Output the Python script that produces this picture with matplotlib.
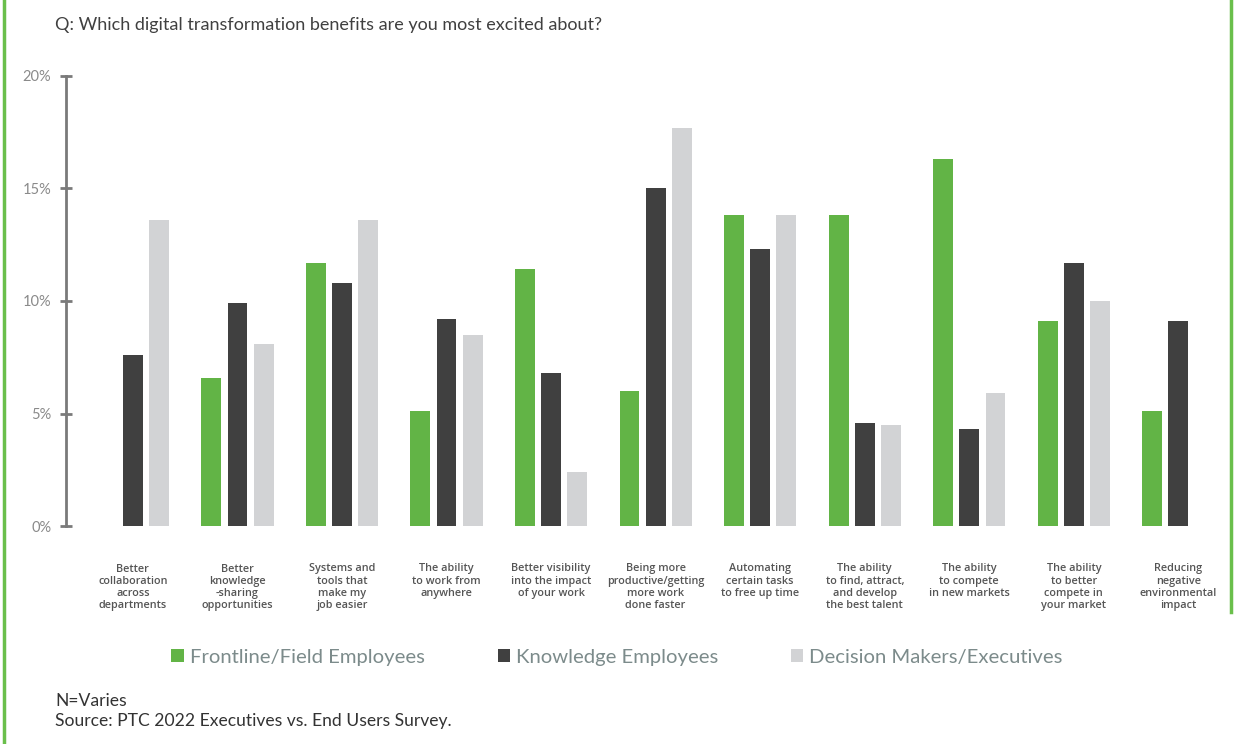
import numpy as np
import matplotlib.pyplot as plt
from matplotlib.lines import Line2D

# Data (percent)
categories = [
    "Better\ncollaboration\nacross\ndepartments",
    "Better\nknowledge\n-sharing\nopportunities",
    "Systems and\ntools that\nmake my\njob easier",
    "The ability\nto work from\nanywhere",
    "Better visibility\ninto the impact\nof your work",
    "Being more\nproductive/getting\nmore work\ndone faster",
    "Automating\ncertain tasks\nto free up time",
    "The ability\nto find, attract,\nand develop\nthe best talent",
    "The ability\nto compete\nin new markets",
    "The ability\nto better\ncompete in\nyour market",
    "Reducing\nnegative\nenvironmental\nimpact",
]
frontline = [0, 6.6, 11.7, 5.1, 11.4, 6.0, 13.8, 13.8, 16.3, 9.1, 5.1]
knowledge = [7.6, 9.9, 10.8, 9.2, 6.8, 15.0, 12.3, 4.6, 4.3, 11.7, 9.1]
decision = [13.6, 8.1, 13.6, 8.5, 2.4, 17.7, 13.8, 4.5, 5.9, 10.0, 0]
series_names = ["Frontline/Field Employees", "Knowledge Employees", "Decision Makers/Executives"]
yticks = [0, 5, 10, 15, 20]

colors = ["#62b446", "#404040", "#d2d3d5"]
font = "Lato"

fig = plt.figure(figsize=(12.34, 7.44), dpi=100)
ax = fig.add_axes([66 / 1234, (744 - 526) / 744, (1215 - 66) / 1234, (526 - 76) / 744])

x = np.arange(len(categories))
width = 0.19
step = 0.25
for i, (vals, name) in enumerate(zip([frontline, knowledge, decision], series_names)):
    ax.bar(x + (i - 1) * step, vals, width, color=colors[i], label=name, zorder=2)

ax.set_xlim(-0.64, 10.35)
ax.set_ylim(0, 20)
ax.set_yticks(yticks)
ax.set_yticklabels([f"{t}%" for t in yticks], fontfamily=font, fontsize=10.5, color="#8a8a8a")
ax.tick_params(axis="y", direction="inout", length=9, width=2, color="#7a7a7a", pad=6)

ax.set_xticks(x)
ax.set_xticklabels(categories, fontfamily="Open Sans", fontsize=7.8, fontweight="semibold",
                   color="#555555", linespacing=1.13)
ax.tick_params(axis="x", length=0, pad=27)

for s in ["top", "right", "bottom"]:
    ax.spines[s].set_visible(False)
ax.spines["left"].set_color("#7a7a7a")
ax.spines["left"].set_linewidth(2)

# legend
leg = fig.legend(loc="center", bbox_to_anchor=(617 / 1234, 1 - 657 / 744), ncol=3,
                 frameon=False, handlelength=0.6, handleheight=0.6, handletextpad=0.3,
                 columnspacing=3.6, prop={"family": font, "size": 14.6},
                 labelcolor="#7c8b8b")

# title and footer
fig.text(55 / 1234, 1 - 25 / 744, "Q: Which digital transformation benefits are you most excited about?",
         fontfamily=font, fontsize=13, color="#404040", va="center")
fig.text(55 / 1234, 1 - 701 / 744, "N=Varies", fontfamily=font, fontsize=12.6, color="#333333", va="center")
fig.text(55 / 1234, 1 - 721 / 744, "Source: PTC 2022 Executives vs. End Users Survey.",
         fontfamily=font, fontsize=12.6, color="#333333", va="center")

# green side rules
fig.add_artist(Line2D([4 / 1234, 4 / 1234], [0, 1], color="#6abf4b", lw=2.5))
fig.add_artist(Line2D([1231 / 1234, 1231 / 1234], [1 - 612 / 744, 1], color="#6abf4b", lw=2.5))

fig.savefig("out.png", dpi=100)
